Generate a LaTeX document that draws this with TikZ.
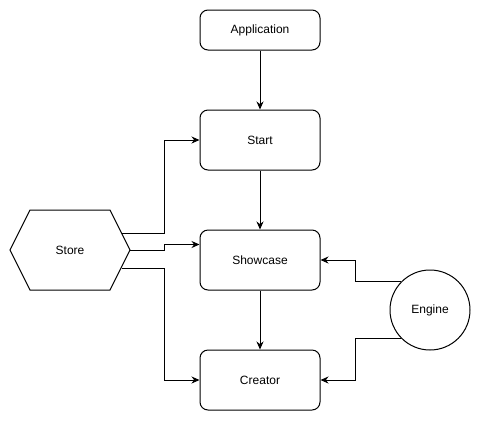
\documentclass[tikz,border=0pt]{standalone}
\usepackage{fontspec}
\setmainfont{Liberation Sans}
\usetikzlibrary{arrows.meta,calc}
\begin{document}
\begin{tikzpicture}[x=1pt,y=-1pt,line width=1pt,
  lbl/.style={font=\fontsize{12}{14}\selectfont},
  box/.style={draw,rounded corners=8pt,minimum width=120pt,minimum height=60pt,inner sep=0pt,lbl},
  conn/.style={draw,-{Stealth[length=8pt,width=7pt]}}]
\useasboundingbox (0,0) rectangle (481,421);
\node[box,minimum height=40pt] (app) at (260,30) {Application};
\node[box] (start) at (260,140) {Start};
\node[box] (show) at (260,260) {Showcase};
\node[box] (creator) at (260,380) {Creator};
\node[draw,circle,minimum size=80pt,inner sep=0pt,lbl] (engine) at (430,310) {Engine};
\node[lbl] (store) at (70,250) {Store};
\draw (10,250) -- (30,210) -- (110,210) -- (130,250) -- (110,290) -- (30,290) -- cycle;
\coordinate (s1) at (121.5,233);
\coordinate (s2) at (130,250);
\coordinate (s3) at (121.5,268);
\coordinate (showin) at ($(show.north west)+(0,15)$);
\draw[conn] (app.south) -- (start.north);
\draw[conn] (start.south) -- (show.north);
\draw[conn] (show.south) -- (creator.north);
\draw[conn] (s1) -| ($(start.west)+(-35,0)$) -- (start.west);
\draw[conn] (s2) -| ($(showin)+(-35,0)$) -- (showin);
\draw[conn] (s3) -| ($(creator.west)+(-35,0)$) -- (creator.west);
\draw[conn] (engine.135) -| ($(show.east)+(35,0)$) -- (show.east);
\draw[conn] (engine.225) -| ($(creator.east)+(35,0)$) -- (creator.east);
\end{tikzpicture}
\end{document}
